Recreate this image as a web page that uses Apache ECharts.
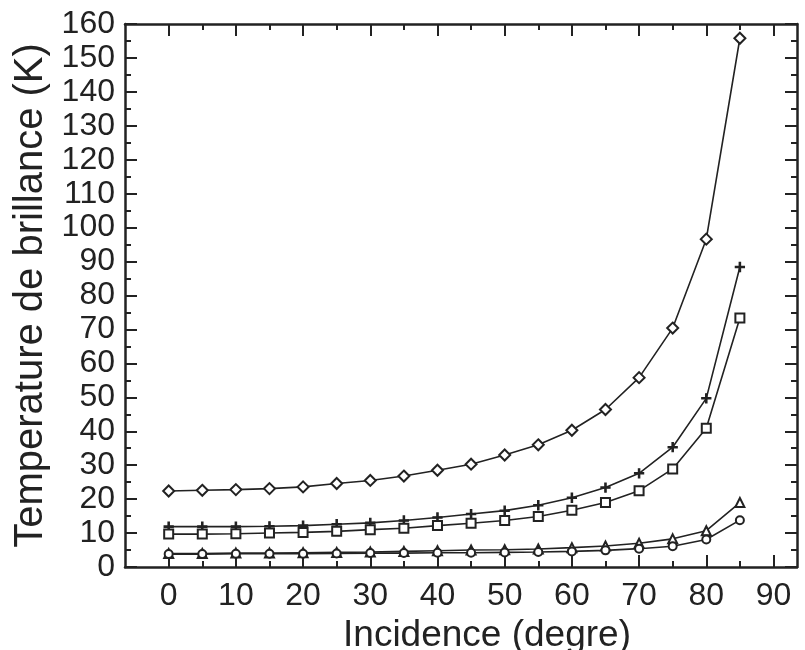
<!DOCTYPE html>
<html>
<head>
<meta charset="utf-8">
<script src="https://cdn.jsdelivr.net/npm/echarts@6/dist/echarts.min.js"></script>
<style>html,body{margin:0;padding:0;background:#fff;}#c{width:805px;height:650px;}</style>
</head>
<body>
<div id="c"></div>
<script>
const incidence = [0,5,10,15,20,25,30,35,40,45,50,55,60,65,70,75,80,85];
const diamondSeries = [22.4,22.6,22.8,23.1,23.6,24.6,25.5,26.8,28.5,30.3,33.0,36.0,40.3,46.4,55.8,70.4,96.6,155.8];
const plusSeries = [11.9,11.9,11.9,12.0,12.2,12.6,13.0,13.7,14.6,15.6,16.6,18.2,20.4,23.4,27.6,35.3,49.7,88.4];
const squareSeries = [9.7,9.7,9.8,10.0,10.2,10.5,11.0,11.4,12.2,12.9,13.7,14.9,16.7,19.0,22.5,28.9,40.9,73.4];
const triangleSeries = [4.0,4.0,4.1,4.1,4.2,4.3,4.4,4.6,4.8,5.0,5.1,5.3,5.7,6.2,7.0,8.3,10.7,19.0];
const circleSeries = [3.8,3.8,3.9,3.9,3.9,4.0,4.1,4.1,4.2,4.2,4.3,4.4,4.6,4.9,5.4,6.1,8.1,13.8];
const xMajorTicks = [0,10,20,30,40,50,60,70,80,90];
const xMinorTicks = [5,15,25,35,45,55,65,75,85];

const INK = '#222';
const FONT = '"Liberation Sans", Arial, sans-serif';
const X_MIN = -6.5, X_MAX = 93.5;

function pairs(ys){ return incidence.map((x,i)=>[x, ys[i]]); }
function xAx(pos, ticks, len, showLine, showLabel, name){
  return {
    type:'value', position:pos, min:X_MIN, max:X_MAX,
    name: name || '', nameLocation:'middle', nameGap:43,
    nameTextStyle:{fontFamily:FONT, fontSize:37, color:INK, padding:[0,0,0,52]},
    axisLine:{show:showLine, onZero:false, lineStyle:{color:INK, width:2.5}},
    axisTick:{show:true, inside:true, length:len, customValues:ticks, lineStyle:{color:INK, width:2}},
    axisLabel:{show:showLabel, customValues:xMajorTicks, margin:13, fontFamily:FONT, fontSize:32, color:INK},
    splitLine:{show:false}
  };
}
function yAx(pos, showLabel, name){
  return {
    type:'value', position:pos, min:0, max:160, interval:10,
    name: name || '', nameLocation:'middle', nameGap:49,
    nameTextStyle:{fontFamily:FONT, fontSize:40, color:INK},
    axisLine:{show:true, onZero:false, lineStyle:{color:INK, width:2.5}},
    axisTick:{show:true, inside:true, length:12, lineStyle:{color:INK, width:2}},
    minorTick:{show:true, splitNumber:2, length:6, lineStyle:{color:INK, width:2}},
    axisLabel:{show:showLabel, margin:10, fontFamily:FONT, fontSize:32, color:INK},
    splitLine:{show:false}, minorSplitLine:{show:false}
  };
}
function ser(name, ys, symbol, size){
  return {
    name, type:'line', xAxisIndex:0, yAxisIndex:0, data:pairs(ys),
    symbol, symbolSize:size, showSymbol:true,
    lineStyle:{color:INK, width:1.6},
    itemStyle:{color:INK, borderColor:INK, borderWidth:1.3},
    animation:false
  };
}
const plusPath = 'path://M-0.7,-5H0.7V-0.7H5V0.7H0.7V5H-0.7V0.7H-5V-0.7H-0.7Z';

const chart = echarts.init(document.getElementById('c'), null, {renderer:'canvas'});
chart.setOption({
  backgroundColor:'#fff',
  animation:false,
  grid:{left:125, right:8, top:24, bottom:83, containLabel:false, outerBoundsMode:'none'},
  xAxis:[
    xAx('bottom', xMajorTicks, 12, true, true, 'Incidence (degre)'),
    xAx('bottom', xMinorTicks, 6, false, false),
    xAx('top', xMajorTicks, 12, true, false),
    xAx('top', xMinorTicks, 6, false, false)
  ],
  yAxis:[
    yAx('left', true, 'Temperature de brillance (K)'),
    yAx('right', false)
  ],
  series:[
    ser('diamond', diamondSeries, 'emptyDiamond', 11),
    ser('plus', plusSeries, plusPath, 9),
    ser('square', squareSeries, 'emptyRect', 9),
    ser('triangle', triangleSeries, 'emptyTriangle', 9),
    ser('circle', circleSeries, 'emptyCircle', 8)
  ]
});
</script>
</body>
</html>
